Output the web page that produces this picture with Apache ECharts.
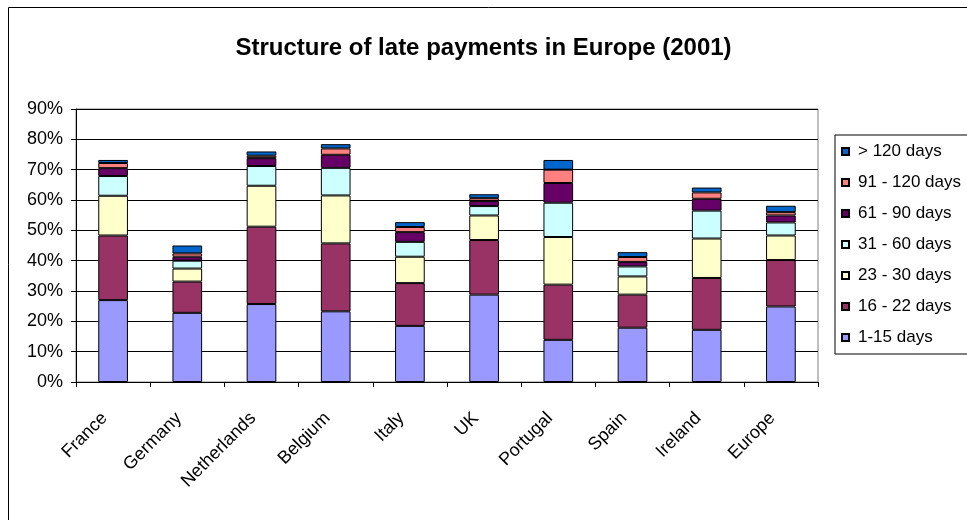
<!DOCTYPE html>
<html>
<head>
<meta charset="utf-8">
<script src="https://cdn.jsdelivr.net/npm/echarts@6/dist/echarts.min.js"></script>
<style>
  html, body { margin: 0; padding: 0; background: #fff; }
  #chart { width: 967px; height: 520px; }
</style>
</head>
<body>
<div id="chart"></div>
<script>
// Late payments by delay band, share of invoices (%) per country, 2001
const categories = ['France', 'Germany', 'Netherlands', 'Belgium', 'Italy', 'UK', 'Portugal', 'Spain', 'Ireland', 'Europe'];
const days1to15   = [27.0, 22.8, 25.7, 23.3, 18.5, 28.8, 13.9, 17.9, 17.2, 24.9];
const days16to22  = [21.3, 10.3, 25.5, 22.4, 14.1, 18.0, 18.2, 10.9, 17.1, 15.3];
const days23to30  = [13.1,  4.3, 13.5, 15.8,  8.7,  8.1, 15.7,  6.0, 13.0,  8.1];
const days31to60  = [ 6.5,  2.6,  6.5,  9.1,  4.9,  3.1, 11.3,  3.3,  9.2,  4.3];
const days61to90  = [ 2.6,  1.3,  2.6,  4.3,  3.2,  1.7,  6.5,  1.5,  3.9,  2.3];
const days91to120 = [ 1.7,  1.1,  0.8,  2.1,  1.7,  0.9,  4.4,  1.6,  2.1,  1.1];
const daysOver120 = [ 1.0,  2.6,  1.4,  1.4,  1.6,  1.3,  3.2,  1.6,  1.6,  2.1];

const bandNames = ['1-15 days', '16 - 22 days', '23 - 30 days', '31 - 60 days', '61 - 90 days', '91 - 120 days', '> 120 days'];
const bandValues = [days1to15, days16to22, days23to30, days31to60, days61to90, days91to120, daysOver120];
const bandColors = ['#9999FF', '#993366', '#FFFFCC', '#CCFFFF', '#660066', '#FF8080', '#0066CC'];
const yTicks = [0, 10, 20, 30, 40, 50, 60, 70, 80, 90];

const FONT = 'Liberation Sans, Arial, sans-serif';

const chart = echarts.init(document.getElementById('chart'), null, { renderer: 'canvas' });

const series = bandNames.map((name, i) => ({
  name: name,
  type: 'bar',
  stack: 'total',
  data: bandValues[i],
  barCategoryGap: '60%',
  itemStyle: { color: bandColors[i], borderColor: '#000', borderWidth: 1 },
  emphasis: { disabled: true }
}));

chart.setOption({
  animation: false,
  backgroundColor: '#fff',
  textStyle: { fontFamily: FONT },
  graphic: [{
    type: 'rect',
    shape: { x: 8.5, y: 7.5, width: 1200, height: 1200 },
    style: { fill: 'none', stroke: '#000', lineWidth: 1 },
    silent: true,
    z: -1
  }],
  title: {
    text: 'Structure of late payments in Europe (2001)',
    left: 'center',
    top: 31,
    textStyle: { fontFamily: FONT, fontWeight: 'bold', fontSize: 24, color: '#000' }
  },
  legend: {
    orient: 'vertical',
    left: 835,
    top: 135,
    data: bandNames.slice().reverse(),
    icon: 'rect',
    itemWidth: 7,
    itemHeight: 7,
    itemGap: 14,
    padding: [8, 40, 8, 6],
    borderColor: '#000',
    borderWidth: 1,
    backgroundColor: '#fff',
    textStyle: { fontFamily: FONT, fontSize: 17, color: '#000', lineHeight: 17, padding: [0, 0, 0, 4] }
  },
  grid: {
    left: 76,
    top: 109,
    width: 742,
    height: 273,
    show: true,
    borderColor: '#808080',
    borderWidth: 1,
    containLabel: false
  },
  xAxis: {
    type: 'category',
    data: categories,
    boundaryGap: true,
    axisLine: { lineStyle: { color: '#000', width: 1 } },
    axisTick: { show: true, length: 5, lineStyle: { color: '#000' } },
    axisLabel: {
      rotate: 45,
      margin: 25,
      padding: [0, 12, 0, 0],
      fontFamily: FONT,
      fontSize: 18,
      color: '#000'
    }
  },
  yAxis: {
    type: 'value',
    min: 0,
    max: 90,
    interval: 10,
    axisLine: { show: true, lineStyle: { color: '#000', width: 1 } },
    axisTick: { show: true, length: 5, lineStyle: { color: '#000' } },
    axisLabel: {
      margin: 13,
      fontFamily: FONT,
      fontSize: 18,
      color: '#000',
      formatter: v => (yTicks.includes(v) ? v + '%' : '')
    },
    splitLine: { show: true, lineStyle: { color: '#000', width: 1 } }
  },
  series: series
});
</script>
</body>
</html>
